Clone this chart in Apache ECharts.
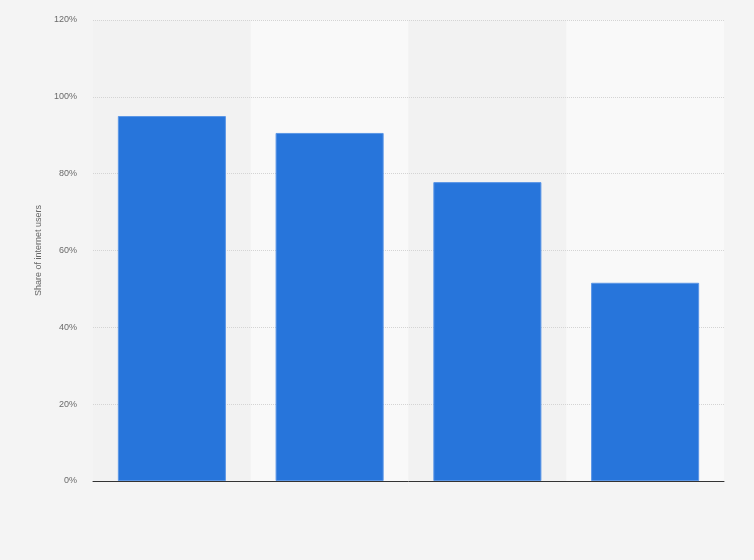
<!DOCTYPE html>
<html>
<head>
<meta charset="utf-8">
<script src="https://cdn.jsdelivr.net/npm/echarts@6/dist/echarts.min.js"></script>
<style>
  html, body { margin: 0; padding: 0; background: #f4f4f4; }
  #chart { width: 754px; height: 560px; }
</style>
</head>
<body>
<div id="chart"></div>
<script>
// data (x labels are not shown in the reference)
var categories = ["1", "2", "3", "4"];
var shares = [95.0, 90.6, 77.8, 51.6];
var yTicks = { min: 0, max: 120, interval: 20 };

var option = {
    backgroundColor: "#f4f4f4",
    grid: {
        left: 93,
        right: 30,
        top: 20,
        bottom: 79
    },
    xAxis: {
        type: "category",
        data: categories,
        z: 0,
        axisLine: { lineStyle: { color: "#333", width: 1 } },
        axisTick: { show: false },
        axisLabel: { show: false },
        splitArea: {
            show: true,
            areaStyle: { color: ["#f2f2f2", "#f9f9f9"] }
        }
    },
    yAxis: {
        type: "value",
        z: 1,
        min: yTicks.min,
        max: yTicks.max,
        interval: yTicks.interval,
        name: "Share of internet users",
        nameLocation: "middle",
        nameGap: 48,
        nameTextStyle: { color: "#666", fontSize: 9, fontFamily: "Liberation Sans" },
        axisLine: { show: false },
        axisTick: { show: false },
        axisLabel: {
            formatter: "{value}%",
            color: "#6a6a6a",
            fontSize: 9,
            fontFamily: "Liberation Sans",
            margin: 16
        },
        splitLine: {
            showMinLine: false,
            lineStyle: { color: "#d4d4d4", type: "dotted" }
        }
    },
    series: [
        {
            type: "bar",
            data: shares,
            barWidth: "68.5%",
            z: 3,
            itemStyle: {
                color: "#2775db",
                borderColor: "#5b96e6",
                borderWidth: 1
            }
        }
    ]
};

var myChart = echarts.init(document.getElementById("chart"));
myChart.setOption(option);
</script>
</body>
</html>
